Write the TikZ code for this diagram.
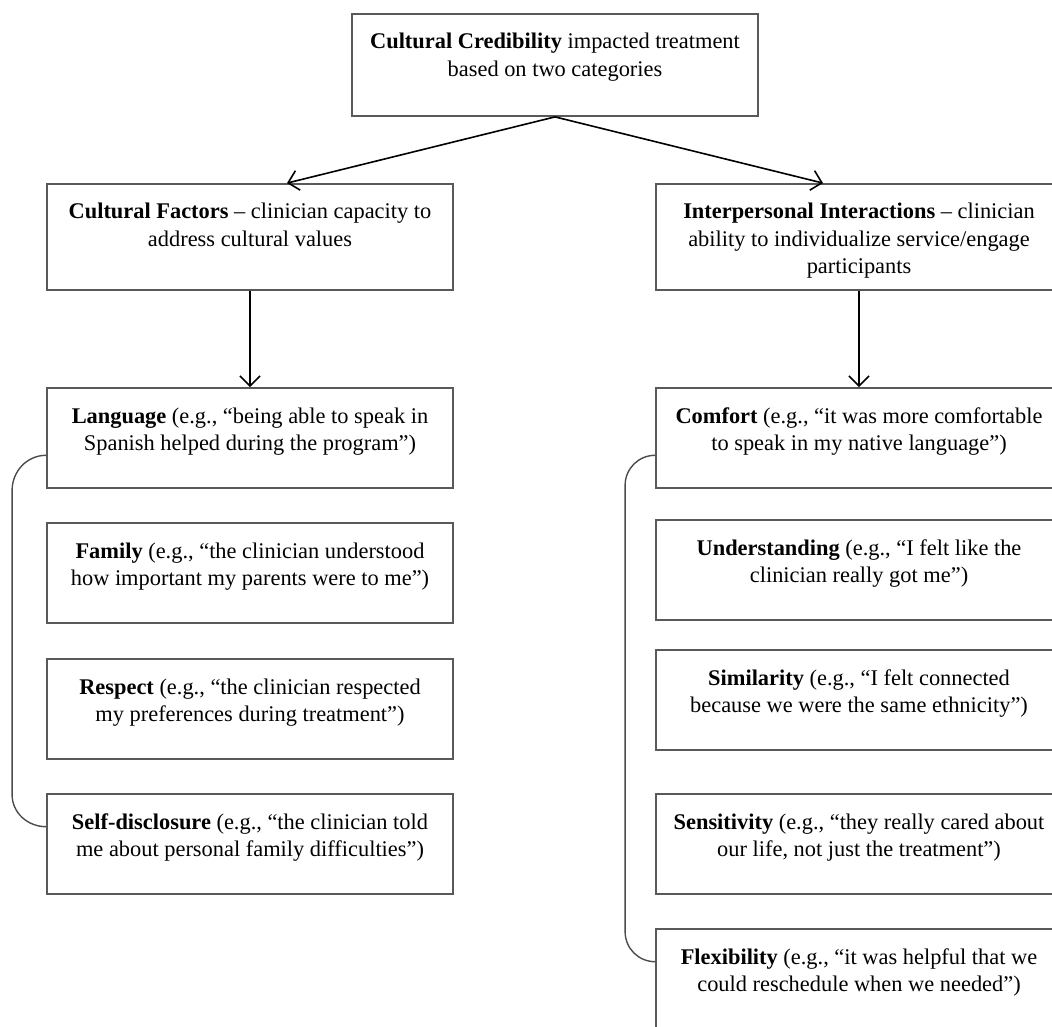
\documentclass[tikz,border=0pt]{standalone}
\usepackage{fontspec}
\setmainfont{Liberation Serif}
\usetikzlibrary{arrows.meta,calc}

\newcommand{\cardtext}[2][50pt]{\parbox[c][#1][t]{203pt}{\centering\rule{0pt}{17.5pt}#2}}

\tikzset{
  card/.style={draw=black!65, line width=0.9pt, fill=white, inner sep=0pt, font=\fontsize{11.2pt}{13.6pt}\selectfont},
  link/.style={line width=0.8pt, -{Straight Barb[length=5pt,width=10pt]}},
  bracket/.style={draw=black!70, line width=0.7pt}
}

\begin{document}
\begin{tikzpicture}[x=0.5pt, y=-0.5pt]
\useasboundingbox (0,0) rectangle (1052,1026);

\node[card] (top) at (555,65) {\cardtext[51pt]{\textbf{Cultural Credibility} impacted treatment\\ based on two categories}};

\node[card] (cf) at (250,237) {\cardtext[53pt]{\textbf{Cultural Factors} – clinician capacity to\\ address cultural values}};
\node[card] (ii) at (859,237) {\cardtext[53pt]{\textbf{Interpersonal Interactions} – clinician\\ ability to individualize service/engage\\ participants}};

\node[card] (lang) at (250,438) {\cardtext{\textbf{Language} (e.g., “being able to speak in\\ Spanish helped during the program”)}};
\node[card] (fam) at (250,573) {\cardtext{\textbf{Family} (e.g., “the clinician understood\\ how important my parents were to me”)}};
\node[card] (resp) at (250,709) {\cardtext{\textbf{Respect} (e.g., “the clinician respected\\ my preferences during treatment”)}};
\node[card] (self) at (250,844) {\cardtext{\textbf{Self-disclosure} (e.g., “the clinician told\\ me about personal family difficulties”)}};

\node[card] (comf) at (859,438) {\cardtext{\textbf{Comfort} (e.g., “it was more comfortable\\ to speak in my native language”)}};
\node[card] (und) at (859,570) {\cardtext{\textbf{Understanding} (e.g., “I felt like the\\ clinician really got me”)}};
\node[card] (sim) at (859,700) {\cardtext{\textbf{Similarity} (e.g., “I felt connected\\ because we were the same ethnicity”)}};
\node[card] (sens) at (859,844) {\cardtext{\textbf{Sensitivity} (e.g., “they really cared about\\ our life, not just the treatment”)}};
\node[card] (flex) at (859,979) {\cardtext{\textbf{Flexibility} (e.g., “it was helpful that we\\ could reschedule when we needed”)}};

\draw[link] (top.south) -- ([xshift=18.5pt]cf.north);
\draw[link] (top.south) -- ([xshift=-18pt]ii.north);
\draw[link] (cf) -- (lang);
\draw[link] (ii) -- (comf);

% brackets grouping the themes
\coordinate (lb1) at ($(lang.north west)!0.67!(lang.south west)$);
\coordinate (lb2) at ($(self.north west)!0.33!(self.south west)$);
\coordinate (rb1) at ($(comf.north west)!0.67!(comf.south west)$);
\coordinate (rb2) at ($(flex.north west)!0.33!(flex.south west)$);

\draw[bracket] (lb1) to[out=180,in=90] ($(lb1)+(-34,35)$) -- ($(lb2)+(-34,-32)$) to[out=-90,in=180] (lb2);
\draw[bracket] (rb1) to[out=180,in=90] ($(rb1)+(-30,30)$) -- ($(rb2)+(-30,-30)$) to[out=-90,in=180] (rb2);
\end{tikzpicture}
\end{document}
